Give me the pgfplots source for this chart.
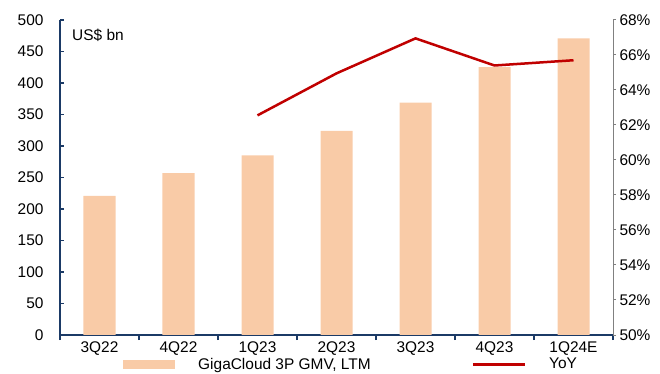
\documentclass[border=0pt]{standalone}
\usepackage{pgfplots}
\pgfplotsset{compat=1.18}
\usepackage{fontspec}
\setmainfont{Liberation Sans}
\definecolor{peach}{HTML}{F9CBA7}
\definecolor{darkred}{HTML}{C00000}
\definecolor{navy}{HTML}{1B3A66}
\definecolor{axgray}{HTML}{808080}
\begin{document}
\begin{tikzpicture}
\useasboundingbox (-60bp,-39bp) rectangle (600bp,335bp);
\pgfplotsset{
  every axis/.append style={scale only axis, width=553bp, height=315bp, xmin=-0.5, xmax=6.5,
    tick label style={font=\fontsize{15.5}{18}\selectfont},
    /pgf/number format/assume math mode=true}
}
\begin{axis}[
  axis x line*=bottom, axis y line*=left,
  x axis line style={navy, line width=2.2bp, -},
  y axis line style={navy, line width=2.2bp, -},
  ymin=0, ymax=500, ytick={0,50,...,500},
  xtick={0,...,6}, xticklabels={3Q22,4Q22,1Q23,2Q23,3Q23,4Q23,1Q24E},
  major x tick style={draw=none},
  minor xtick={-0.5,0.5,...,6.5},
  minor x tick style={navy, line width=1.5bp},
  tick align=outside,
  minor tick length=5bp, major tick length=4bp,
  y tick style={navy, line width=1.2bp, xshift=4bp},
  yticklabel style={xshift=-9bp},
  xticklabel style={yshift=1bp},
  legend columns=2,
  legend style={draw=none, fill=none, inner sep=0pt,
    font=\fontsize{15.5}{18}\selectfont,
    at={(axis description cs:0.114,-0.093)}, anchor=west,
    /tikz/every odd column/.style={column sep=21bp},
    /tikz/every even column/.style={column sep=99bp}},
]
\addplot[ybar, bar width=32bp, bar shift=0pt, fill=peach, draw=none,
  legend image code/.code={\fill[peach] (0bp,-4.5bp) rectangle (52bp,4.5bp);}]
  coordinates {(0,221)(1,257)(2,285)(3,324)(4,369)(5,425)(6,471)};
\addlegendentry{GigaCloud 3P GMV, LTM}
\addlegendimage{legend image code/.code={\draw[darkred, line width=2.5bp] (0bp,0bp) -- (52bp,0bp);}}
\addlegendentry{YoY}
\node[anchor=west, font=\fontsize{15.5}{18}\selectfont, inner sep=0pt] at (axis description cs:0.0217,0.952) {US\$ bn};
\end{axis}
\begin{axis}[
  axis x line=none, axis y line*=right,
  y axis line style={axgray, line width=1bp, -},
  ymin=50, ymax=68, ytick={50,52,...,68},
  yticklabel={\pgfmathprintnumber{\tick}\%},
  y tick style={axgray, line width=1bp},
  tick align=outside, major tick length=3bp,
]
\addplot[darkred, line width=2.5bp] coordinates {(2,62.55)(3,64.95)(4,66.95)(5,65.4)(6,65.7)};
\end{axis}
\end{tikzpicture}
\end{document}
